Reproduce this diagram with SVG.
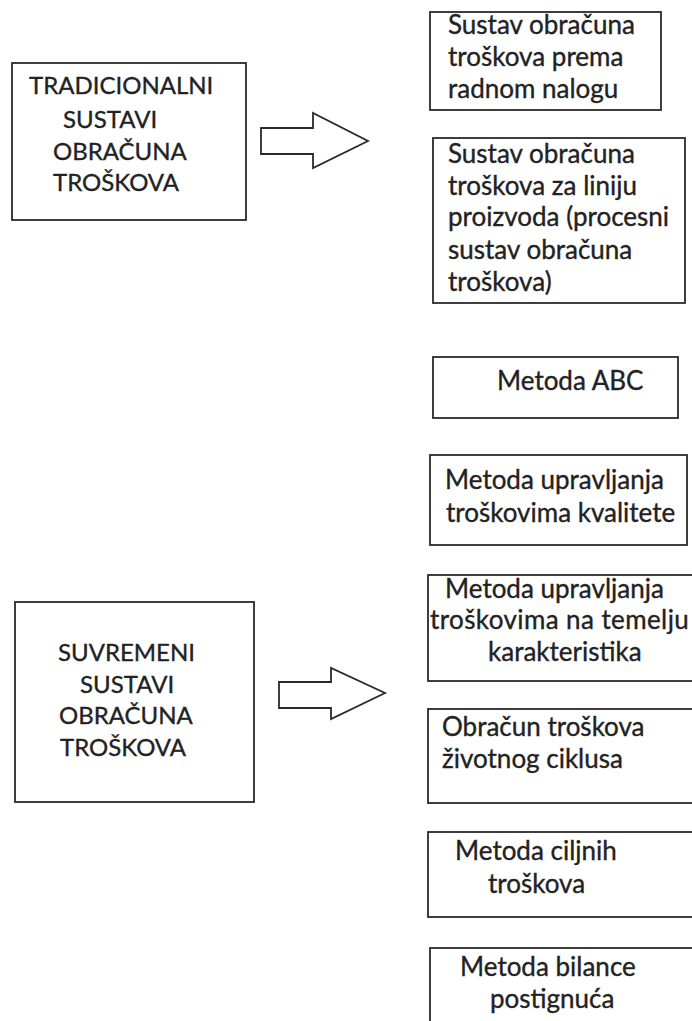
<svg xmlns="http://www.w3.org/2000/svg" width="692" height="1021" viewBox="0 0 692 1021">
<style>
.box{fill:#fff;stroke:#2a2a2a;stroke-width:1.8}
.t{font-family:Lato,"Open Sans","Liberation Sans",sans-serif;font-size:26px;fill:#222;stroke:#222;stroke-width:0.35}
.c{font-size:24px}
.arrow{fill:#fff;stroke:#2a2a2a;stroke-width:1.8;stroke-linejoin:miter}
</style>
<rect width="692" height="1021" fill="#fff"/>
<g id="node-tradicionalni">
<rect class="box" x="12" y="63" width="234" height="157"/>
<text class="t c" x="29" y="94">TRADICIONALNI</text>
<text class="t c" x="63" y="128">SUSTAVI</text>
<text class="t c" x="53" y="160">OBRAČUNA</text>
<text class="t c" x="53" y="191">TROŠKOVA</text>
</g>
<g id="node-suvremeni">
<rect class="box" x="15" y="602" width="239" height="200"/>
<text class="t c" x="58" y="661">SUVREMENI</text>
<text class="t c" x="80" y="693">SUSTAVI</text>
<text class="t c" x="59" y="724">OBRAČUNA</text>
<text class="t c" x="60" y="756">TROŠKOVA</text>
</g>
<g id="node-radni-nalog">
<rect class="box" x="430" y="12" width="231" height="98"/>
<text class="t" x="448" y="34">Sustav obračuna</text>
<text class="t" x="448" y="66">troškova prema</text>
<text class="t" x="448" y="98">radnom nalogu</text>
</g>
<g id="node-linija-proizvoda">
<rect class="box" x="433" y="138" width="252" height="165"/>
<text class="t" x="448" y="163">Sustav obračuna</text>
<text class="t" x="448" y="195">troškova za liniju</text>
<text class="t" x="448" y="226">proizvoda (procesni</text>
<text class="t" x="448" y="259">sustav obračuna</text>
<text class="t" x="448" y="291">troškova)</text>
</g>
<g id="node-abc">
<rect class="box" x="433" y="357" width="245" height="61"/>
<text class="t" x="497" y="390">Metoda ABC</text>
</g>
<g id="node-kvaliteta">
<rect class="box" x="430" y="455" width="257" height="90"/>
<text class="t" x="445" y="489">Metoda upravljanja</text>
<text class="t" x="446" y="522">troškovima kvalitete</text>
</g>
<g id="node-karakteristike">
<rect class="box" x="428" y="575" width="272" height="106"/>
<text class="t" x="445" y="598">Metoda upravljanja</text>
<text class="t" x="430" y="629" letter-spacing="0.4">troškovima na temelju</text>
<text class="t" x="488" y="661">karakteristika</text>
</g>
<g id="node-zivotni-ciklus">
<rect class="box" x="428" y="709" width="272" height="94"/>
<text class="t" x="442" y="736">Obračun troškova</text>
<text class="t" x="442" y="768">životnog ciklusa</text>
</g>
<g id="node-ciljni-troskovi">
<rect class="box" x="428" y="832" width="272" height="85"/>
<text class="t" x="455" y="860">Metoda ciljnih</text>
<text class="t" x="488" y="893">troškova</text>
</g>
<g id="node-bilanca">
<rect class="box" x="430" y="948" width="270" height="90"/>
<text class="t" x="460" y="976">Metoda bilance</text>
<text class="t" x="490" y="1008">postignuća</text>
</g>
<g id="connectors">
<polygon class="arrow" points="261,128 313,128 313,113 368,141 313,168 313,154 261,154"/>
<polygon class="arrow" points="279,682 331,682 331,668 385,693 331,719 331,708 279,708"/>
</g>
</svg>
